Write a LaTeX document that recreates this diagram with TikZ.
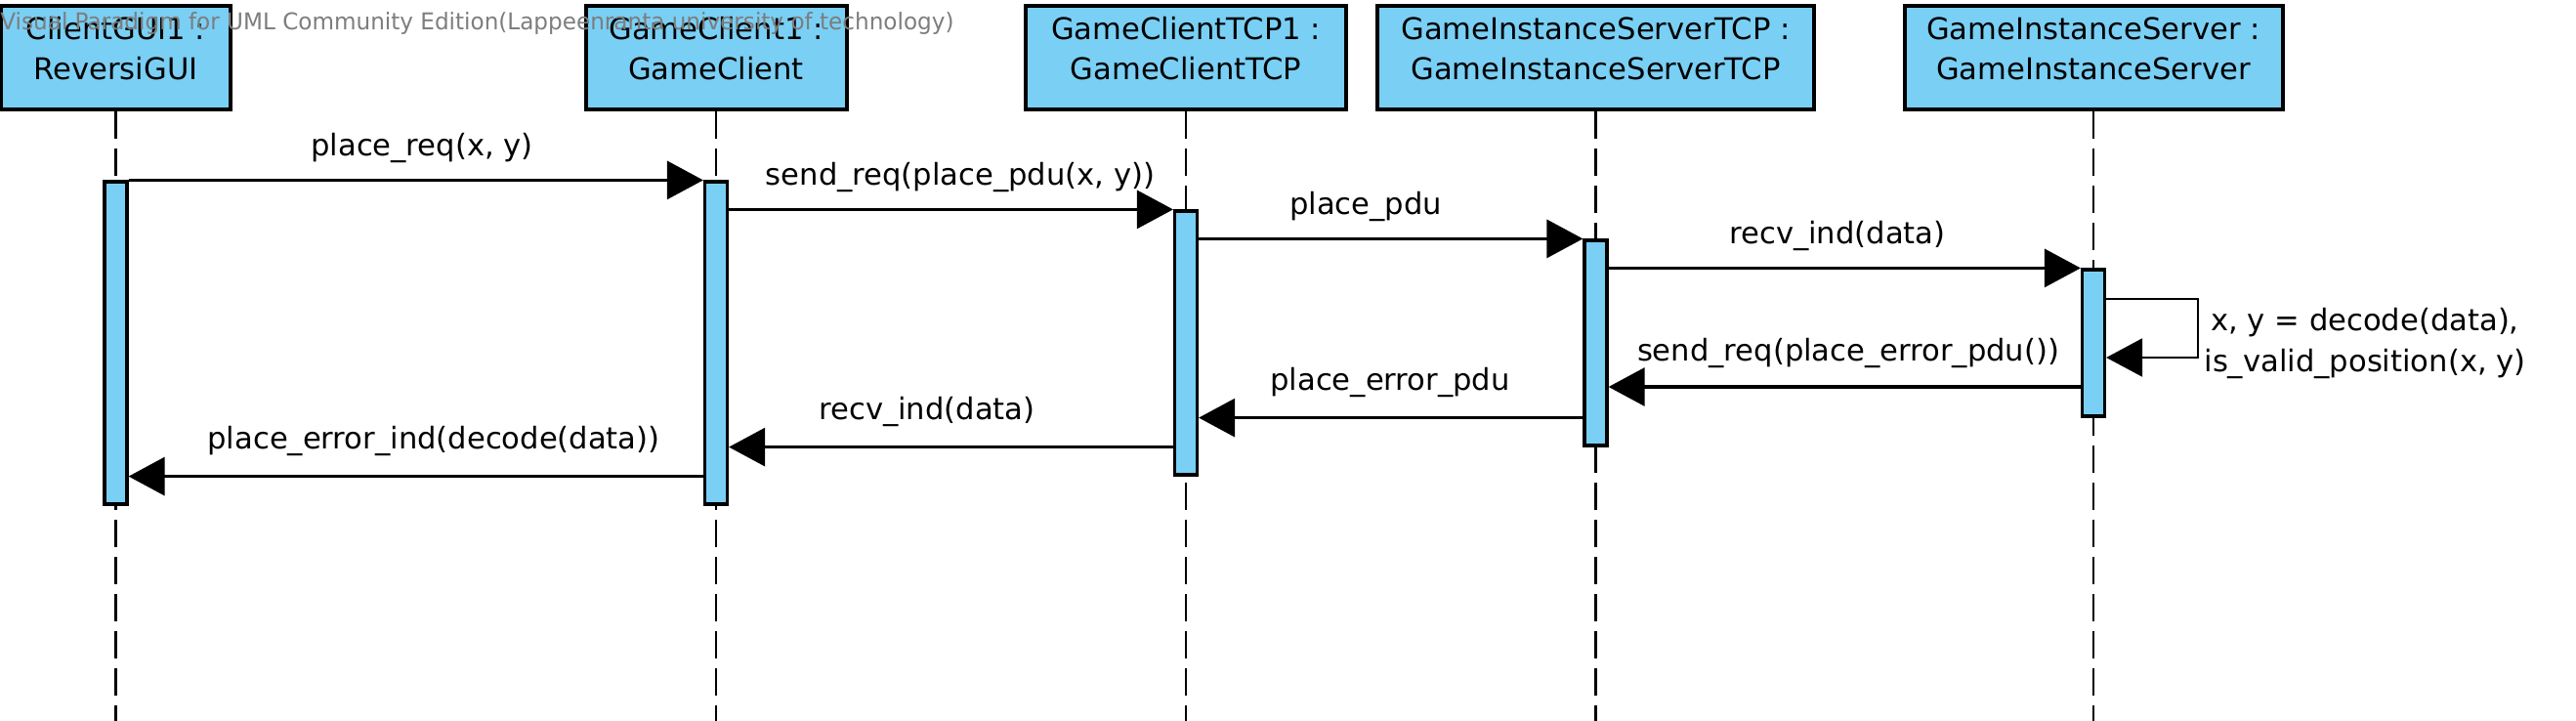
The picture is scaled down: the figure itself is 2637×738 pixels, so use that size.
\documentclass[tikz,border=0pt]{standalone}
\usepackage{graphicx}
\usepackage{fontspec}
\setmainfont{DejaVu Sans}
\usetikzlibrary{arrows.meta,calc}
\definecolor{umlblue}{RGB}{122,207,244}
\definecolor{wmgray}{RGB}{125,125,125}
\begin{document}
\begin{tikzpicture}[x=0.5pt,y=-0.5pt,
  objbox/.style={draw=black, line width=2pt, fill=umlblue, inner sep=0pt, minimum height=53pt},
  boxtext/.style={anchor=base, inner sep=0pt, font=\fontsize{15.3}{18}\selectfont},
  lbl/.style={anchor=base, inner sep=0pt, font=\fontsize{15.3}{18}\selectfont},
  lifeline/.style={draw=black, line width=1.15pt, dash pattern=on 14pt off 5pt},
  act/.style={draw=black, line width=1.6pt, fill=umlblue, inner sep=0pt, minimum width=11.5pt},
  msg/.style={draw=black, line width=1.55pt, -{Triangle[length=18.5pt,width=19.5pt]}},
  selfmsg/.style={draw=black, line width=1.2pt, -{Triangle[length=18.5pt,width=19.5pt]}}
]
\useasboundingbox (0,0) rectangle (2637,738);

% object boxes
\node[objbox, minimum width=117.5pt] (b1) at (118.5,59) {};
\node[objbox, minimum width=133.5pt] (b2) at (733,59) {};
\node[objbox, minimum width=164pt] (b3) at (1214,59) {};
\node[objbox, minimum width=223.5pt] (b4) at (1633.5,59) {};
\node[objbox, minimum width=193.5pt] (b5) at (2143,59) {};

\node[boxtext] (b1a) at (118.5,41) {ClientGUI1 :};
\node[boxtext] (b1b) at (118.5,82) {ReversiGUI};
\node[boxtext] (b2a) at (733,41) {GameClient1 :};
\node[boxtext] (b2b) at (733,82) {GameClient};
\node[boxtext] (b3a) at (1214,41) {GameClientTCP1 :};
\node[boxtext] (b3b) at (1214,82) {GameClientTCP};
\node[boxtext] (b4a) at (1633.5,41) {GameInstanceServerTCP :};
\node[boxtext] (b4b) at (1633.5,82) {GameInstanceServerTCP};
\node[boxtext] (b5a) at (2143,41) {GameInstanceServer :};
\node[boxtext] (b5b) at (2143,82) {GameInstanceServer};

% lifelines
\coordinate (e1) at (118.5,738);
\coordinate (e2) at (733,738);
\coordinate (e3) at (1214,738);
\coordinate (e4) at (1633.5,738);
\coordinate (e5) at (2143,738);
\draw[lifeline] (b1.south) -- (e1);
\draw[lifeline] (b2.south) -- (e2);
\draw[lifeline] (b3.south) -- (e3);
\draw[lifeline] (b4.south) -- (e4);
\draw[lifeline] (b5.south) -- (e5);

% activations
\node[act, minimum height=165pt] (a1) at (118.5,351) {};
\node[act, minimum height=165pt] (a2) at (733,351) {};
\node[act, minimum height=135pt] (a3) at (1214,351) {};
\node[act, minimum height=105pt] (a4) at (1633.5,351) {};
\node[act, minimum height=75pt] (a5) at (2143,351) {};

% forward messages
\draw[msg] (a1.north east) -- (a2.north west);
\node[lbl] (l1) at (432,159) {place\_req(x, y)};
\draw[msg] (a2.east |- a3.north) -- (a3.north west);
\node[lbl] (l2) at (983,189) {send\_req(place\_pdu(x, y))};
\draw[msg] (a3.east |- a4.north) -- (a4.north west);
\node[lbl] (l3) at (1398,219) {place\_pdu};
\draw[msg] (a4.east |- a5.north) -- (a5.north west);
\node[lbl] (l4) at (1881,249) {recv\_ind(data)};

% self message
\coordinate (s1) at (2250,306);
\coordinate (s2) at (2250,366);
\draw[selfmsg] (a5.east |- s1) -- (s1) -- (s2) -- (a5.east |- s2);
\node[lbl] (l5a) at (2421,338) {x, y = decode(data),};
\node[lbl] (l5b) at (2421,380) {is\_valid\_position(x, y)};

% return messages
\coordinate (r1) at (0,396);
\draw[msg] (a5.west |- r1) -- (a4.east |- r1);
\node[lbl] (l6) at (1892,369) {send\_req(place\_error\_pdu())};
\draw[msg] (a4.west |- a5.south) -- (a3.east |- a5.south);
\node[lbl] (l7) at (1423,399) {place\_error\_pdu};
\draw[msg] (a3.west |- a4.south) -- (a2.east |- a4.south);
\node[lbl] (l8) at (949,429) {recv\_ind(data)};
\draw[msg] (a2.west |- a3.south) -- (a1.east |- a3.south);
\node[lbl] (l9) at (444,459) {place\_error\_ind(decode(data))};

% watermark
\node[anchor=base west, inner sep=0pt, text=wmgray] (wm) at (0,31)
  {\resizebox{488pt}{9pt}{Visual Paradigm for UML Community Edition(Lappeenranta university of technology)}};
\end{tikzpicture}
\end{document}
